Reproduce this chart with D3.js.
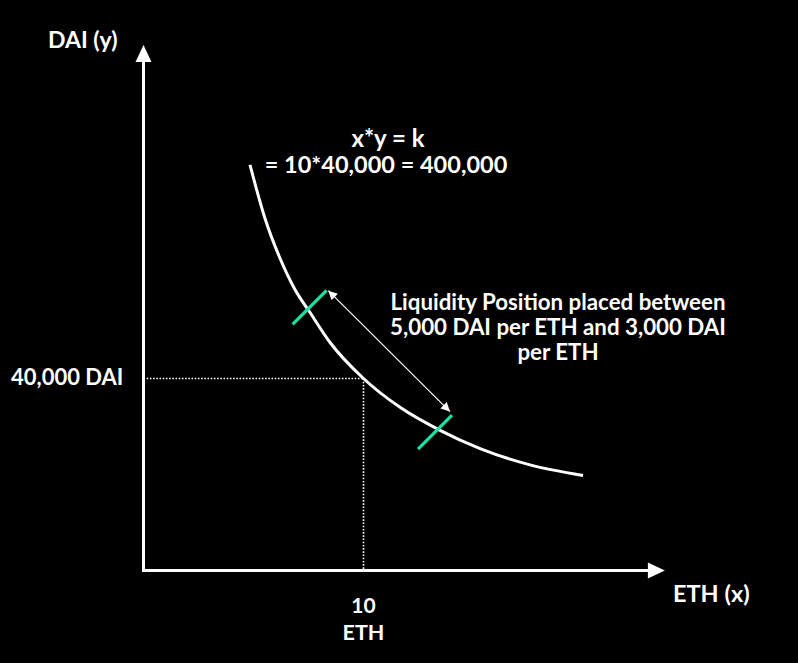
<!DOCTYPE html>
<html><head><meta charset="utf-8">
<script src="https://cdn.jsdelivr.net/npm/d3@7"></script>
<style>html,body{margin:0;padding:0;background:#000;overflow:hidden}svg{display:block}</style>
</head><body><svg id="c" width="798" height="663"></svg>
<script>
// Curve points (ETH, DAI)
const curveEth = [4.84, 5.52, 6.20, 6.89, 7.57, 8.48, 10, 11.66, 13.48, 15.30, 17.57, 19.98];
const curveDai = [84500, 73400, 65100, 58500, 53750, 47500, 40000, 34000, 29200, 25400, 22000, 19800];
// reference point
const refEth = 10, refDai = 40000;
// liquidity range markers on curve
const markEth = [7.55, 13.25];
const markDai = [54800, 28850];
// double arrow ends
const arrowEth = [8.4, 13.93];
const arrowDai = [58300, 33100];
// axis extent
const axisMaxEth = 23.7, axisMaxDai = 109500;
// texts
const yAxisTitle = "DAI (y)";
const xAxisTitle = "ETH (x)";
const yTickLabel = "40,000 DAI";
const xTickLabel = ["10", "ETH"];
const formulaLines = ["x*y = k", "= 10*40,000 = 400,000"];
const noteLines = ["Liquidity Position placed between", "5,000 DAI per ETH and 3,000 DAI", "per ETH"];

const svg = d3.select("#c");
svg.append("rect").attr("width", 798).attr("height", 663).attr("fill", "#000");
const x = d3.scaleLinear().domain([0, 10]).range([143.5, 363.5]);
const y = d3.scaleLinear().domain([0, 40000]).range([570.5, 378.5]);
const font = "Lato, 'Open Sans', sans-serif";

// dotted guides
svg.append("line").attr("x1", x(0)).attr("x2", x(refEth)).attr("y1", y(refDai)).attr("y2", y(refDai))
  .attr("stroke", "#fff").attr("stroke-width", 1.6).attr("stroke-dasharray", "1.6,1.6");
svg.append("line").attr("x1", x(refEth)).attr("x2", x(refEth)).attr("y1", y(refDai)).attr("y2", y(0))
  .attr("stroke", "#fff").attr("stroke-width", 1.6).attr("stroke-dasharray", "1.6,1.6");

// axes
svg.append("line").attr("x1", x(0)).attr("x2", x(0)).attr("y1", y(0) + 1.5).attr("y2", y(axisMaxDai) + 14)
  .attr("stroke", "#fff").attr("stroke-width", 3);
svg.append("line").attr("x1", x(0) - 1.5).attr("x2", x(axisMaxEth) - 14).attr("y1", y(0)).attr("y2", y(0))
  .attr("stroke", "#fff").attr("stroke-width", 3);
const ty = [x(0), y(axisMaxDai)];
svg.append("path").attr("d", `M${ty[0]},${ty[1]}L${ty[0] - 8},${ty[1] + 17}L${ty[0] + 8},${ty[1] + 17}Z`).attr("fill", "#fff");
const tx = [x(axisMaxEth), y(0)];
svg.append("path").attr("d", `M${tx[0]},${tx[1]}L${tx[0] - 17},${tx[1] - 8}L${tx[0] - 17},${tx[1] + 8}Z`).attr("fill", "#fff");

// curve
const pts = curveEth.map((e, i) => [x(e), y(curveDai[i])]);
svg.append("path").attr("d", d3.line().curve(d3.curveMonotoneX)(pts))
  .attr("fill", "none").attr("stroke", "#fff").attr("stroke-width", 3);

// green markers
markEth.forEach((e, i) => {
  const cx = x(e), cy = y(markDai[i]);
  svg.append("line").attr("x1", cx - 17).attr("y1", cy + 17).attr("x2", cx + 17).attr("y2", cy - 17)
    .attr("stroke", "#1fe0a4").attr("stroke-width", 3.2);
});

// double arrow
const defs = svg.append("defs");
defs.append("marker").attr("id", "ah").attr("viewBox", "0 0 10 10").attr("refX", 10).attr("refY", 5)
  .attr("markerWidth", 10).attr("markerHeight", 9).attr("markerUnits", "userSpaceOnUse").attr("orient", "auto-start-reverse")
  .append("path").attr("d", "M0,0L10,5L0,10Z").attr("fill", "#fff");
svg.append("line").attr("x1", x(arrowEth[0])).attr("y1", y(arrowDai[0])).attr("x2", x(arrowEth[1])).attr("y2", y(arrowDai[1]))
  .attr("stroke", "#fff").attr("stroke-width", 1.2)
  .attr("marker-start", "url(#ah)").attr("marker-end", "url(#ah)");

// texts
function txt(s, px, py, size, anchor) {
  return svg.append("text").attr("x", px).attr("y", py).text(s)
    .attr("fill", "#fff").attr("font-family", font).attr("font-weight", 700)
    .attr("font-size", size).attr("text-anchor", anchor || "start");
}
txt(yAxisTitle, 48, 48, 23);
txt(xAxisTitle, 673, 602, 23.5);
txt(yTickLabel, 11, 385, 22);
txt(xTickLabel[0], x(refEth), 613, 21, "middle");
txt(xTickLabel[1], x(refEth), 640, 21.5, "middle");
txt(formulaLines[0], 388, 147, 24, "middle");
txt(formulaLines[1], 386, 173, 23.5, "middle");
noteLines.forEach((s, i) => txt(s, 558, 310 + i * 25, 22.3, "middle"));
</script></body></html>
